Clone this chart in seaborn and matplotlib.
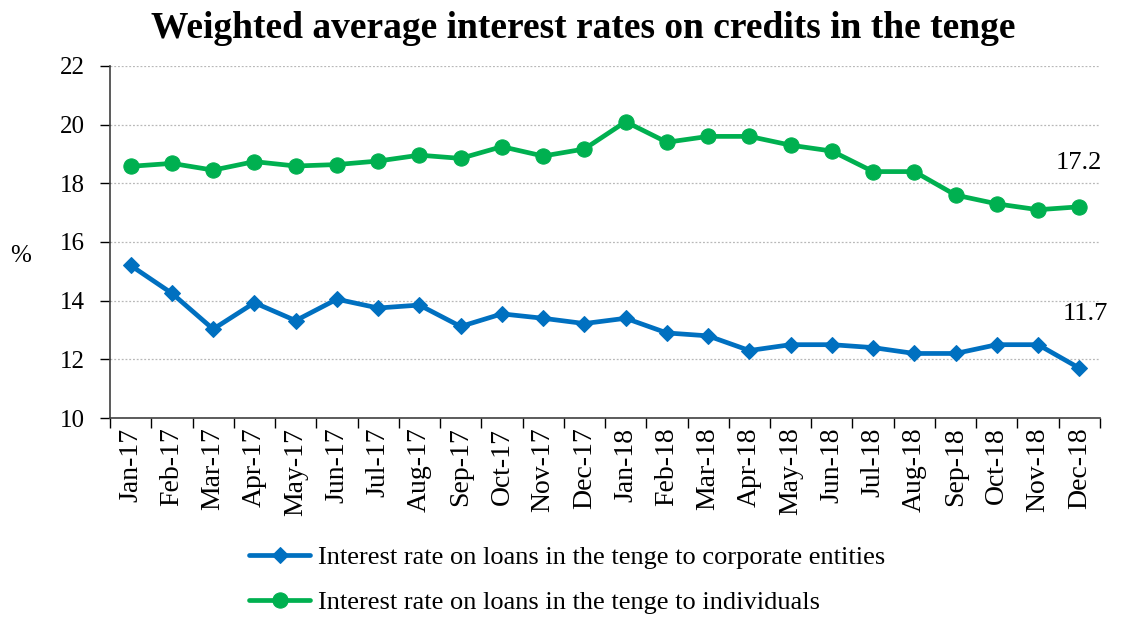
import matplotlib
matplotlib.use("Agg")
import matplotlib.pyplot as plt
from matplotlib.ticker import FixedLocator, NullFormatter, FixedFormatter
import seaborn as sns
import pandas as pd

months = ["Jan-17", "Feb-17", "Mar-17", "Apr-17", "May-17", "Jun-17", "Jul-17", "Aug-17",
          "Sep-17", "Oct-17", "Nov-17", "Dec-17", "Jan-18", "Feb-18", "Mar-18", "Apr-18",
          "May-18", "Jun-18", "Jul-18", "Aug-18", "Sep-18", "Oct-18", "Nov-18", "Dec-18"]

corporate = [15.2, 14.25, 13.03, 13.93, 13.32, 14.05, 13.75, 13.85, 13.12, 13.55, 13.4, 13.22,
             13.4, 12.9, 12.8, 12.3, 12.5, 12.5, 12.4, 12.2, 12.2, 12.5, 12.5, 11.7]

individuals = [18.58, 18.68, 18.45, 18.74, 18.59, 18.64, 18.76, 18.96, 18.85, 19.25, 18.93, 19.17,
               20.1, 19.4, 19.6, 19.6, 19.3, 19.1, 18.4, 18.4, 17.6, 17.3, 17.1, 17.2]

label_corp = "Interest rate on loans in the tenge to corporate entities"
label_ind = "Interest rate on loans in the tenge to individuals"

sns.set_theme(style="white")
plt.rcParams["font.family"] = ["Liberation Serif", "DejaVu Serif"]
plt.rcParams["text.color"] = "black"
plt.rcParams["xtick.color"] = "black"
plt.rcParams["ytick.color"] = "black"
plt.rcParams["axes.labelcolor"] = "black"

df_corp = pd.DataFrame({"pos": range(len(months)), "rate": corporate})
df_ind = pd.DataFrame({"pos": range(len(months)), "rate": individuals})

fig = plt.figure(figsize=(11.23, 6.19), dpi=100)
ax = fig.add_axes([0.098, 0.3247, 0.8815, 0.5687])

blue = "#0070C0"
green = "#00B050"

sns.lineplot(data=df_corp, x="pos", y="rate", ax=ax, color=blue, linewidth=3.4,
             marker="D", markersize=8.5, markeredgecolor=blue, label=label_corp)
sns.lineplot(data=df_ind, x="pos", y="rate", ax=ax, color=green, linewidth=3.4,
             marker="o", markersize=11, markeredgecolor=green, label=label_ind)

ax.set_xlim(-0.5, len(months) - 0.5)
ax.set_ylim(10, 22)
ax.set_yticks(range(10, 23, 2))
ax.tick_params(axis="y", labelsize=18, length=7, width=1, direction="out", left=True, pad=11)

# ticks on category boundaries, labels centred on categories
ax.xaxis.set_major_locator(FixedLocator([i - 0.5 for i in range(len(months) + 1)]))
ax.xaxis.set_major_formatter(NullFormatter())
ax.xaxis.set_minor_locator(FixedLocator(list(range(len(months)))))
ax.xaxis.set_minor_formatter(FixedFormatter(months))
ax.tick_params(axis="x", which="major", length=7, width=1, direction="out", bottom=True)
ax.tick_params(axis="x", which="minor", length=0, labelsize=20, labelrotation=90, pad=7)

ax.grid(axis="y", color="#b8b8b8", linestyle=(0, (1.5, 1.5)), linewidth=0.9)
ax.grid(axis="x", visible=False)
for side in ("top", "right"):
    ax.spines[side].set_visible(False)
for side in ("left", "bottom"):
    ax.spines[side].set_color("#404040")
    ax.spines[side].set_linewidth(1.2)

ax.set_xlabel("")
ax.set_ylabel("%", rotation=0, fontsize=18, labelpad=0)
ax.yaxis.set_label_coords(-0.09, 0.43)

ax.annotate(f"{individuals[-1]:.1f}", xy=(len(months) - 1, individuals[-1]),
            xytext=(0, 27), textcoords="offset points", ha="center", fontsize=19)
ax.annotate(f"{corporate[-1]:.1f}", xy=(len(months) - 1, corporate[-1]),
            xytext=(4, 35), textcoords="offset points", ha="center", fontsize=19)

fig.suptitle("Weighted average interest rates on credits in the tenge", x=0.519, y=0.982,
             fontsize=27, fontweight="bold")

handles, labels = ax.get_legend_handles_labels()
ax.legend_.remove()
fig.legend(handles, labels, loc="center", bbox_to_anchor=(0.505, 0.063), ncol=1,
           frameon=False, fontsize=19, handlelength=2.3, handletextpad=0.3,
           labelspacing=0.8)

fig.savefig("out.png", dpi=100)
